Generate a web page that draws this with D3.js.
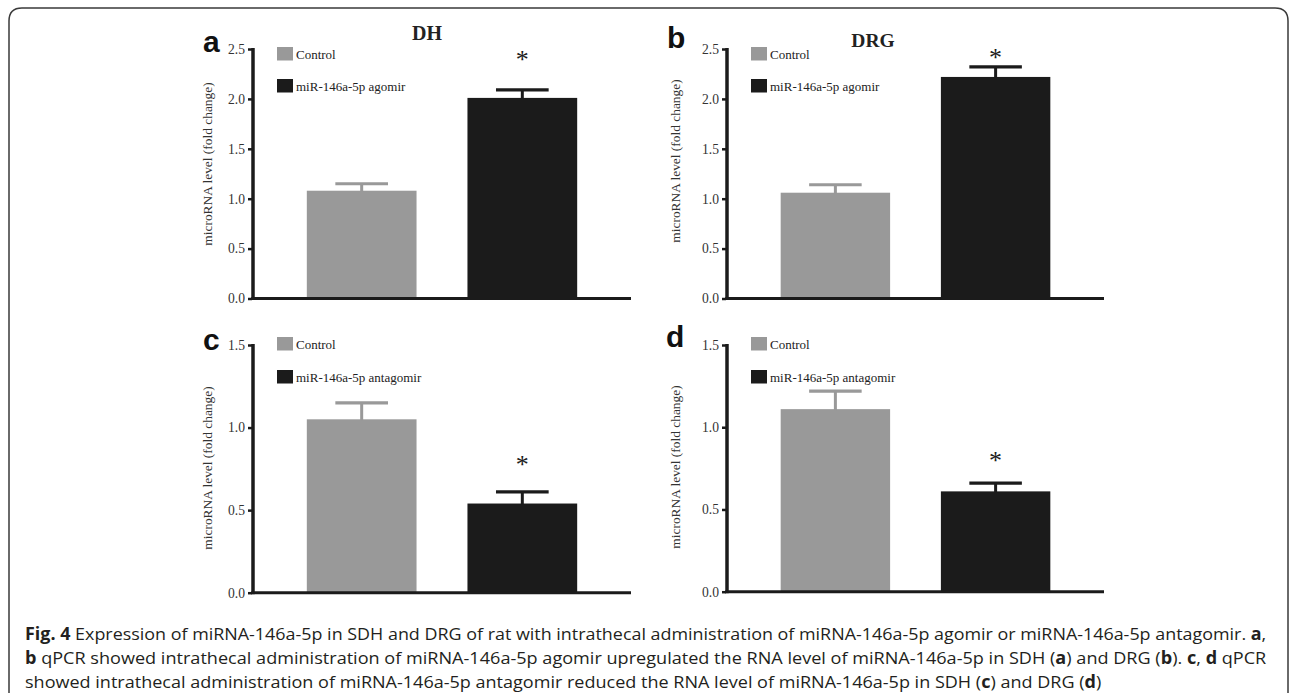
<!DOCTYPE html>
<html>
<head>
<meta charset="utf-8">
<script src="https://cdn.jsdelivr.net/npm/d3@7"></script>
<style>
  html, body { margin: 0; padding: 0; background: #fff; }
  svg { display: block; }
</style>
</head>
<body>
<svg id="chart" width="1290" height="693"></svg>
<script>
// ---------------- DATA ----------------
const groupsAgomir = ["Control", "miR-146a-5p agomir"];
const groupsAntagomir = ["Control", "miR-146a-5p antagomir"];

const valuesA = [1.08, 2.01];   // DH agomir
const errorsA = [0.07, 0.08];
const valuesB = [1.06, 2.22];   // DRG agomir
const errorsB = [0.08, 0.10];
const valuesC = [1.05, 0.54];   // DH antagomir
const errorsC = [0.10, 0.07];
const valuesD = [1.11, 0.61];   // DRG antagomir
const errorsD = [0.11, 0.05];

const ticksTop = [0, 0.5, 1.0, 1.5, 2.0, 2.5];
const ticksBottom = [0, 0.5, 1.0, 1.5];

const panelLetters = ["a", "b", "c", "d"];
const panelTitles = ["DH", "DRG", "", ""];
const significant = [false, true];
const starLevels = [2.43, 2.45, 0.80, 0.82];
const yLabel = "microRNA level (fold change)";

const captionLines = [
  [["Fig. 4", true], [" Expression of miRNA-146a-5p in SDH and DRG of rat with intrathecal administration of miRNA-146a-5p agomir or miRNA-146a-5p antagomir. ", false], ["a", true], [",", false]],
  [["b", true], [" qPCR showed intrathecal administration of miRNA-146a-5p agomir upregulated the RNA level of miRNA-146a-5p in SDH (", false], ["a", true], [") and DRG (", false], ["b", true], ["). ", false], ["c", true], [", ", false], ["d", true], [" qPCR", false]],
  [["showed intrathecal administration of miRNA-146a-5p antagomir reduced the RNA level of miRNA-146a-5p in SDH (", false], ["c", true], [") and DRG (", false], ["d", true], [")", false]]
];

// ---------------- LAYOUT ----------------
const colors = ["#999999", "#1b1b1b"];
const panels = [
  { groups: groupsAgomir, values: valuesA, errors: errorsA, ticks: ticksTop, ymax: 2.5,
    ax: 253, xEnd: 631, yBot: 298.5, yTop: 49,
    letterX: 203, letterY: 52, titleX: 427, titleY: 40, titleSize: 20,
    labelX: 207, labelY: 164, labelSize: 13.4, legY: [47, 79] },
  { groups: groupsAgomir, values: valuesB, errors: errorsB, ticks: ticksTop, ymax: 2.5,
    ax: 727, xEnd: 1104, yBot: 298.5, yTop: 49,
    letterX: 667, letterY: 48, titleX: 873, titleY: 47, titleSize: 19.5,
    labelX: 675, labelY: 161, labelSize: 13.4, legY: [47, 79] },
  { groups: groupsAntagomir, values: valuesC, errors: errorsC, ticks: ticksBottom, ymax: 1.5,
    ax: 253, xEnd: 631, yBot: 592.7, yTop: 345,
    letterX: 203, letterY: 350, titleX: 0, titleY: 0, titleSize: 0,
    labelX: 207, labelY: 468, labelSize: 13.4, legY: [337, 370] },
  { groups: groupsAntagomir, values: valuesD, errors: errorsD, ticks: ticksBottom, ymax: 1.5,
    ax: 727, xEnd: 1104, yBot: 591.7, yTop: 345,
    letterX: 666, letterY: 347, titleX: 0, titleY: 0, titleSize: 0,
    labelX: 675, labelY: 467, labelSize: 13.4, legY: [337, 370] }
];

const svg = d3.select("#chart");

// figure frame
svg.append("path")
  .attr("d", "M9,700 V21 Q9,8 22,8 H1275 Q1288,8 1288,21 V700")
  .attr("fill", "none").attr("stroke", "#3a3a3a").attr("stroke-width", 1.5);

const serif = "'Liberation Serif', 'Times New Roman', serif";

panels.forEach((p, i) => {
  const g = svg.append("g");
  const x = d3.scaleBand().domain(p.groups).range([p.ax, p.xEnd])
    .paddingInner(0.317).paddingOuter(0.335);
  const y = d3.scaleLinear().domain([0, p.ymax]).range([p.yBot, p.yTop]);
  const bw = x.bandwidth();

  // bars
  g.selectAll("rect.bar").data(p.groups).join("rect")
    .attr("class", "bar")
    .attr("x", d => x(d))
    .attr("y", (d, j) => y(p.values[j]))
    .attr("width", bw)
    .attr("height", (d, j) => y(0) - y(p.values[j]))
    .attr("fill", (d, j) => colors[j]);

  // error bars
  p.groups.forEach((d, j) => {
    const cx = x(d) + bw / 2;
    const top = y(p.values[j] + p.errors[j]);
    g.append("line").attr("x1", cx).attr("x2", cx)
      .attr("y1", y(p.values[j]) + 1).attr("y2", top)
      .attr("stroke", colors[j]).attr("stroke-width", 3);
    g.append("line").attr("x1", cx - bw * 0.24).attr("x2", cx + bw * 0.24)
      .attr("y1", top).attr("y2", top)
      .attr("stroke", colors[j]).attr("stroke-width", 3.2);
    if (significant[j]) {
      g.append("text").attr("x", cx).attr("y", y(starLevels[i]) + 12.5)
        .attr("text-anchor", "middle")
        .attr("font-family", serif).attr("font-size", 26)
        .attr("fill", "#1b1b1b").text("*");
    }
  });

  // y axis
  const axis = d3.axisLeft(y).tickValues(p.ticks).tickFormat(d3.format(".1f"))
    .tickSize(5).tickSizeOuter(0).tickPadding(3);
  const ag = g.append("g").attr("transform", `translate(${p.ax},0)`).call(axis);
  ag.select(".domain").attr("stroke", "#1b1b1b").attr("stroke-width", 3.5)
    .attr("d", `M0,${y(p.ymax) - 1}V${y(0) + 1.5}`);
  ag.selectAll(".tick line").attr("stroke", "#1b1b1b").attr("stroke-width", 2.5)
    .attr("x1", -1);
  ag.selectAll(".tick text").attr("font-family", serif).attr("font-size", 13.6)
    .attr("fill", "#333");

  // x axis baseline
  g.append("line").attr("x1", p.ax - 1.75).attr("x2", p.xEnd)
    .attr("y1", y(0)).attr("y2", y(0))
    .attr("stroke", "#1b1b1b").attr("stroke-width", 3);

  // y label
  g.append("text")
    .attr("transform", `translate(${p.labelX},${p.labelY}) rotate(-90)`)
    .attr("text-anchor", "middle").attr("dominant-baseline", "central")
    .attr("font-family", serif).attr("font-size", p.labelSize)
    .attr("fill", "#333").text(yLabel);

  // panel letter
  g.append("text").attr("x", p.letterX).attr("y", p.letterY)
    .attr("font-family", "'Liberation Sans', Arial, sans-serif")
    .attr("font-weight", "bold").attr("font-size", 30)
    .attr("fill", "#111").text(panelLetters[i]);

  // title
  if (panelTitles[i]) {
    g.append("text").attr("x", p.titleX).attr("y", p.titleY)
      .attr("text-anchor", "middle")
      .attr("font-family", serif).attr("font-weight", "bold")
      .attr("font-size", p.titleSize).attr("fill", "#222").text(panelTitles[i]);
  }

  // legend
  p.groups.forEach((d, j) => {
    g.append("rect").attr("x", p.ax + 24).attr("y", p.legY[j])
      .attr("width", 16).attr("height", 13.5).attr("fill", colors[j]);
    g.append("text").attr("x", p.ax + 43).attr("y", p.legY[j] + 12)
      .attr("font-family", serif).attr("font-size", 13)
      .attr("fill", "#222").text(d);
  });
});

// caption
const capX = 25;
const capBaselines = [640, 664, 688];
const capWidths = [1242, 1242, 1077];
captionLines.forEach((line, k) => {
  const t = svg.append("text")
    .attr("font-family", "'Open Sans', 'Noto Sans', sans-serif")
    .attr("font-size", 17).attr("fill", "#231f20");
  line.forEach(([s, b]) => {
    t.append("tspan").attr("font-weight", b ? "bold" : "normal").text(s);
  });
  const w = t.node().getComputedTextLength();
  const sx = capWidths[k] / w;
  t.attr("transform", `translate(${capX},${capBaselines[k]}) scale(${sx},1)`);
});
</script>
</body>
</html>
